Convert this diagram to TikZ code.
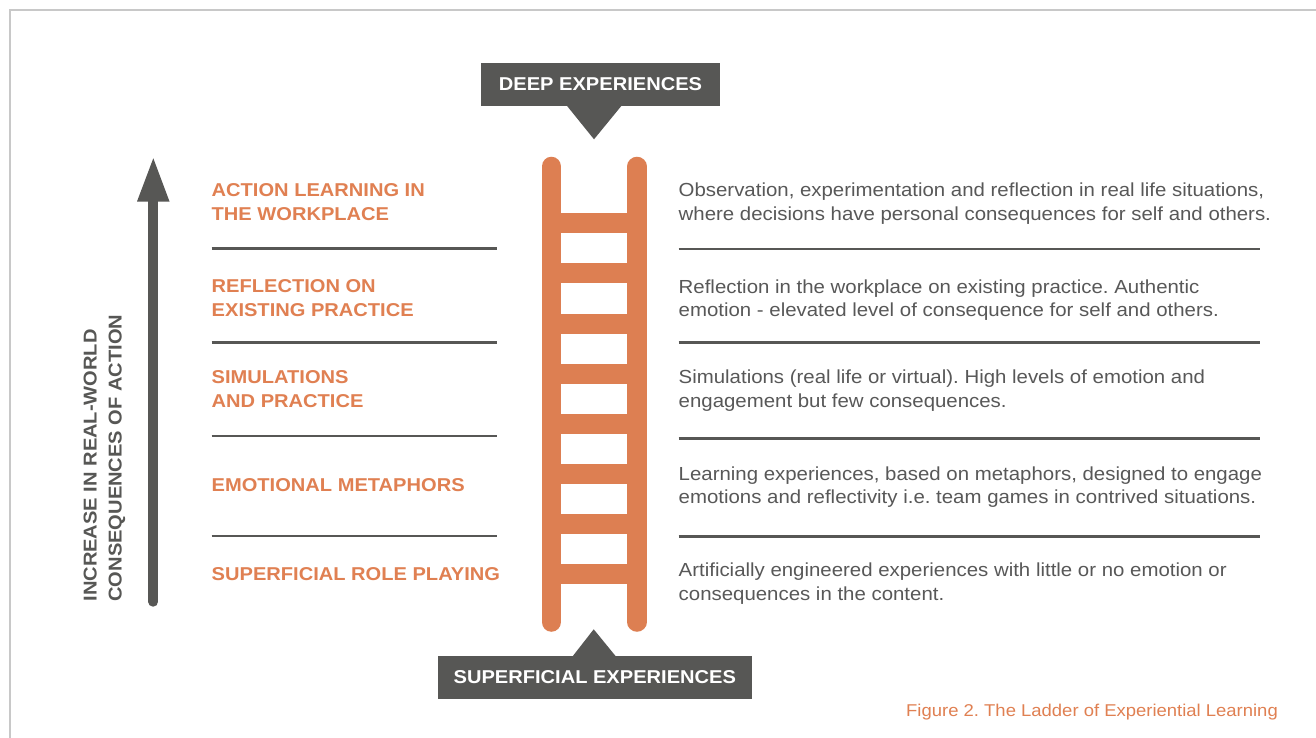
\documentclass[tikz,border=0pt]{standalone}
\usepackage{fontspec}
\setmainfont{Liberation Sans}[FakeStretch=1.08]
\frenchspacing
\definecolor{ladder}{RGB}{221,127,82}
\definecolor{lblorange}{RGB}{224,128,82}
\definecolor{dark}{RGB}{87,87,85}
\definecolor{txtgray}{RGB}{88,88,88}
\definecolor{framegray}{RGB}{200,200,200}
\tikzset{
  lbl/.style={anchor=base west, inner sep=0pt, text=lblorange, font=\fontsize{18.6}{22}\selectfont\bfseries},
  dsc/.style={anchor=base west, inner sep=0pt, text=txtgray, font=\fontsize{18.9}{22}\selectfont},
  divider/.style={draw=dark, line width=2.5pt},
  rail/.style={draw=ladder, line width=19.5pt, line cap=round},
  rung/.style={draw=ladder, line width=20pt},
  banner/.style={fill=dark, text=white, inner sep=0pt, font=\fontsize{18.6}{22}\selectfont\bfseries},
  axislbl/.style={anchor=base west, inner sep=0pt, text=dark, rotate=90, font=\fontsize{18.6}{22}\selectfont\bfseries},
  captionlbl/.style={anchor=base west, inner sep=0pt, text=lblorange, font=\fontsize{17.1}{20}\selectfont}
}
\begin{document}
\frenchspacing
\begin{tikzpicture}[x=1pt,y=-1pt]
\useasboundingbox (0,0) rectangle (1316,738);
\fill[white] (0,0) rectangle (1316,738);
% frame
\draw[framegray, line width=1.5pt] (10,738) -- (10,10) -- (1316,10);

% left axis arrow
\draw[dark, line width=10pt, line cap=round] (153.3,601.7) -- (153.3,200);
\fill[dark] (137,201.5) -- (169.5,201.5) -- (153.3,158.3) -- cycle;
\node[axislbl] (ax1) at (96.7,601.7) {INCREASE IN REAL-WORLD};
\node[axislbl] (ax2) at (121.7,601.7) {CONSEQUENCES OF ACTION};

% ladder
\draw[rail] (551.3,166.5) -- (551.3,622);
\draw[rail] (637,166.5) -- (637,622);
\foreach \k in {0,...,7}{
  \draw[rung] (551.3,223.3+50.17*\k) -- (637,223.3+50.17*\k);
}

% banners
\node[banner, minimum width=239pt, minimum height=42.4pt] (deep) at (600.5,84.5) {DEEP EXPERIENCES};
\fill[dark] (566.7,105.5) -- (621.7,105.5) -- (594,139.3) -- cycle;
\node[banner, minimum width=313.7pt, minimum height=42.7pt] (sup) at (594.8,677.3) {SUPERFICIAL EXPERIENCES};
\fill[dark] (572.7,656.2) -- (615.7,656.2) -- (593.7,629.3) -- cycle;

% left labels
\node[lbl] (l1a) at (211.5,196.7) {ACTION LEARNING IN};
\node[lbl] (l1b) at (211.5,220.5) {THE WORKPLACE};
\node[lbl] (l2a) at (211.5,292) {REFLECTION ON};
\node[lbl] (l2b) at (211.5,316.2) {EXISTING PRACTICE};
\node[lbl] (l3a) at (211.5,383) {SIMULATIONS};
\node[lbl] (l3b) at (211.5,407.3) {AND PRACTICE};
\node[lbl] (l4) at (211.5,491.5) {EMOTIONAL METAPHORS};
\node[lbl] (l5) at (211.5,580) {SUPERFICIAL ROLE PLAYING};

% left dividers
\draw[divider] (211.5,248.3) -- (496.7,248.3);
\draw[divider] (211.5,342.3) -- (496.7,342.3);
\draw[divider] (211.5,436) -- (496.7,436);
\draw[divider] (211.5,536) -- (496.7,536);

% right dividers
\draw[divider] (678.5,249) -- (1260,249);
\draw[divider] (678.5,342.5) -- (1260,342.5);
\draw[divider] (678.5,438.5) -- (1260,438.5);
\draw[divider] (678.5,536.7) -- (1260,536.7);

% descriptions
\node[dsc] (d1a) at (678.5,196.7) {Observation, experimentation and reflection in real life situations,};
\node[dsc] (d1b) at (678.5,220.8) {where decisions have personal consequences for self and others.};
\node[dsc] (d2a) at (678.5,293.3) {Reflection in the workplace on existing practice. Authentic};
\node[dsc] (d2b) at (678.5,316.8) {emotion - elevated level of consequence for self and others.};
\node[dsc] (d3a) at (678.5,383.5) {Simulations (real life or virtual). High levels of emotion and};
\node[dsc] (d3b) at (678.5,407.5) {engagement but few consequences.};
\node[dsc] (d4a) at (678.5,480) {Learning experiences, based on metaphors, designed to engage};
\node[dsc] (d4b) at (678.5,503.7) {emotions and reflectivity i.e. team games in contrived situations.};
\node[dsc] (d5a) at (678.5,576) {Artificially engineered experiences with little or no emotion or};
\node[dsc] (d5b) at (678.5,600) {consequences in the content.};

% caption
\node[captionlbl] (cap) at (906,716.7) {Figure 2. The Ladder of Experiential Learning};
\end{tikzpicture}
\end{document}
